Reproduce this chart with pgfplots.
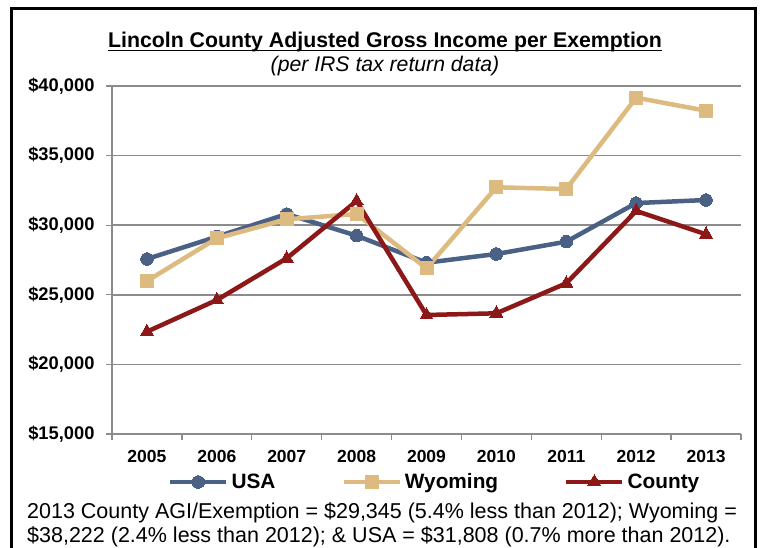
\documentclass[border=0pt]{standalone}
\usepackage{pgfplots}
\pgfplotsset{compat=1.18}
\usepackage{fontspec}
\setmainfont{Liberation Sans}
\definecolor{usa}{RGB}{74,96,132}
\definecolor{wyo}{RGB}{221,186,128}
\definecolor{cty}{RGB}{140,24,24}
\definecolor{gridc}{RGB}{140,140,140}
\begin{document}
\begin{tikzpicture}[x=1pt,y=1pt]
\useasboundingbox (0,0) rectangle (762,548);
\draw[line width=3pt] (11.5,-10) -- (11.5,539.5) -- (755.5,539.5) -- (755.5,-10);
\node[anchor=base, inner sep=0pt, font=\bfseries\fontsize{21.3}{24}\selectfont] (t) at (385,500) {Lincoln County Adjusted Gross Income per Exemption};
\draw[line width=1.4pt] ([yshift=-2.6pt]t.base west) -- ([yshift=-2.6pt]t.base east);
\node[anchor=base, inner sep=0pt, font=\itshape\fontsize{21.2}{24}\selectfont] at (385,476) {(per IRS tax return data)};
\begin{axis}[
  at={(112pt,114pt)}, anchor=south west,
  scale only axis, width=629pt, height=348pt,
  xmin=0.5, xmax=9.5, ymin=15000, ymax=40000,
  axis x line*=bottom, axis y line*=left,
  axis line style={-, draw=gridc, line width=1.5pt},
  xtick={1,...,9},
  xticklabels={2005,2006,2007,2008,2009,2010,2011,2012,2013},
  minor xtick={0.5,1.5,...,9.5},
  major x tick style={draw=none},
  minor x tick style={draw=gridc, line width=1.3pt},
  minor tick length=6pt,
  scaled y ticks=false,
  ytick={15000,20000,25000,30000,35000,40000},
  yticklabels={\$15{,}000,\$20{,}000,\$25{,}000,\$30{,}000,\$35{,}000,\$40{,}000},
  major y tick style={draw=gridc, line width=1.3pt},
  major tick length=6pt,
  tick align=outside,
  ymajorgrids, major grid style={draw=gridc, line width=1.5pt},
  xticklabel style={yshift=-7pt, font=\bfseries\fontsize{17.5}{20}\selectfont},
  yticklabel style={xshift=-8pt, font=\bfseries\fontsize{18.3}{20}\selectfont},
  legend columns=3,
  legend style={at={(0.513,-0.138)}, anchor=center, draw=none, fill=none,
    font=\bfseries\fontsize{20.8}{24}\selectfont,
    /tikz/every odd column/.append style={column sep=1pt},
    /tikz/every even column/.append style={column sep=64pt}},
  legend image code/.code={\draw[mark repeat=2,mark phase=2,#1] plot coordinates {(0pt,0pt) (28pt,0pt) (56pt,0pt)};},
  every axis plot/.append style={line width=4.5pt},
]
\addplot[color=usa, mark=*, mark size=6.3pt, mark options={line width=0pt, fill=usa}] coordinates {
(1,27572) (2,29174) (3,30800) (4,29246) (5,27306) (6,27931) (7,28815) (8,31590) (9,31808)};
\addlegendentry{USA}
\addplot[color=wyo, mark=square*, mark size=6.5pt, mark options={line width=0pt, fill=wyo}] coordinates {
(1,25991) (2,29059) (3,30424) (4,30805) (5,26904) (6,32722) (7,32600) (8,39160) (9,38222)};
\addlegendentry{Wyoming}
\addplot[color=cty, mark=triangle*, mark size=7.5pt, mark options={line width=0pt, fill=cty}] coordinates {
(1,22350) (2,24626) (3,27622) (4,31739) (5,23549) (6,23670) (7,25826) (8,31020) (9,29345)};
\addlegendentry{County}
\end{axis}
\node[anchor=base west, inner sep=0pt, font=\fontsize{21.5}{24}\selectfont] at (27,29) {2013 County AGI/Exemption = \$29,345 (5.4\% less than 2012); Wyoming =};
\node[anchor=base west, inner sep=0pt, font=\fontsize{21.5}{24}\selectfont] at (27,5) {\$38,222 (2.4\% less than 2012); \& USA = \$31,808 (0.7\% more than 2012).};
\end{tikzpicture}
\end{document}
